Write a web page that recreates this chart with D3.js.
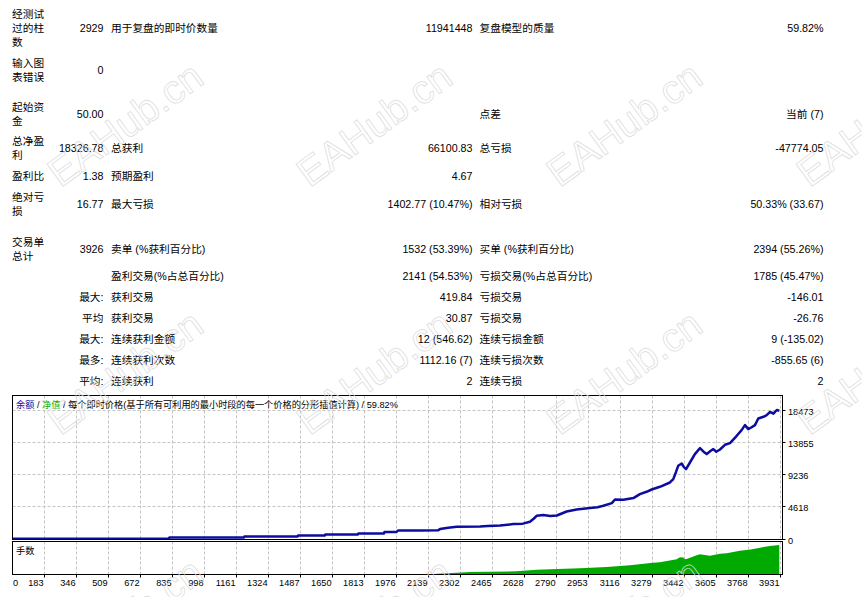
<!DOCTYPE html>
<html>
<head>
<meta charset="utf-8">
<script src="https://cdn.jsdelivr.net/npm/d3@7/dist/d3.min.js"></script>
<style>
  html, body { margin: 0; padding: 0; background: #ffffff; }
  svg { display: block; }
</style>
</head>
<body>
<div id="report"></div>
<script>
/* Strategy tester report: summary table + balance / lots chart */

// ---- table data ----
var headLabels = [
  ['经测试', '过的柱', '数'], ['输入图', '表错误'], ['起始资', '金'], ['总净盈', '利'],
  ['盈利比'], ['绝对亏', '损'], ['交易单', '总计'], [], [], [], [], [], []
];
var headValues = ['2929', '0', '50.00', '18326.78', '1.38', '16.77', '3926', '',
  '最大:', '平均', '最大:', '最多:', '平均:'];
var midLabels = ['用于复盘的即时价数量', '', '', '总获利', '预期盈利', '最大亏损',
  '卖单 (%获利百分比)', '盈利交易(%占总百分比)', '获利交易', '获利交易',
  '连续获利金额', '连续获利次数', '连续获利'];
var midValues = ['11941448', '', '', '66100.83', '4.67', '1402.77 (10.47%)',
  '1532 (53.39%)', '2141 (54.53%)', '419.84', '30.87', '12 (546.62)', '1112.16 (7)', '2'];
var rightLabels = ['复盘模型的质量', '', '点差', '总亏损', '', '相对亏损',
  '买单 (%获利百分比)', '亏损交易(%占总百分比)', '亏损交易', '亏损交易',
  '连续亏损金额', '连续亏损次数', '连续亏损'];
var rightValues = ['59.82%', '', '当前 (7)', '-47774.05', '', '50.33% (33.67)',
  '2394 (55.26%)', '1785 (45.47%)', '-146.01', '-26.76', '9 (-135.02)', '-855.65 (6)', '2'];

// ---- chart data ----
var legendParts = ['余额', ' / ', '净值', ' / 每个即时价格(基于所有可利用的最小时段的每一个价格的分形插值计算) / 59.82%'];
var volumeLabel = '手数';
var xTicks = [0, 183, 346, 509, 672, 835, 998, 1161, 1324, 1487, 1650, 1813, 1976,
  2139, 2302, 2465, 2628, 2790, 2953, 3116, 3279, 3442, 3605, 3768, 3931];
var yTicks = [0, 4618, 9236, 13855, 18473];

var tradeNo = [0, 818, 820, 1200, 1202, 1473, 1475, 1612, 1614, 1700, 1780, 1782, 1913, 1915,
  1977, 1984, 2100, 2188, 2198, 2240, 2283, 2402, 2440, 2504, 2571, 2620, 2656, 2675, 2690,
  2724, 2760, 2793, 2843, 2894, 2962, 3000, 3030, 3073, 3089, 3132, 3183, 3216, 3250, 3276,
  3318, 3369, 3386, 3400, 3411, 3429, 3440, 3451, 3471, 3496, 3522, 3540, 3556, 3575, 3590, 3605, 3624, 3649,
  3675, 3709, 3734, 3751, 3768, 3785, 3802, 3819, 3845, 3860, 3879, 3896, 3913, 3926];
var balance = [50, 80, 215, 230, 358, 370, 501, 510, 644, 650, 660, 788, 800, 988,
  1000, 1217, 1230, 1240, 1418, 1600, 1747, 1790, 1850, 1933, 2134, 2200, 2463, 2900, 3322,
  3423, 3300, 3365, 3938, 4224, 4425, 4550, 4754, 5141, 5657, 5614, 5857, 6430, 6760, 7089,
  7476, 8092, 8579, 9600, 10484, 10813, 10300, 10011, 10956, 12159, 13018, 12500, 12159, 12600, 12875, 12500, 12818, 13491,
  13735, 14780, 15596, 16312, 15740, 16000, 16312, 17257, 17501, 17700, 18200, 17950, 18473, 18377];

var lotTradeNo = [0, 2160, 2162, 2351, 2450, 2588, 2621, 2690, 2799, 2911, 3047, 3165, 3283,
  3318, 3403, 3420, 3437, 3445, 3454, 3505, 3522, 3573, 3624, 3658, 3725, 3780, 3827, 3878, 3926];
var lots = [0, 0, 0.10, 0.30, 0.33, 0.37, 0.43, 0.53, 0.60, 0.67, 0.80, 0.97, 1.23,
  1.27, 1.57, 1.77, 1.75, 1.57, 1.60, 1.97, 2.07, 1.93, 2.13, 2.17, 2.43, 2.55, 2.73, 2.90, 3.00];

var watermarkText = 'EAHub.cn';
var watermarkCols = [125, 374, 624, 874];
var watermarkRows = [124, 372, 620];

(function () {
  'use strict';

  var WIDTH = 862, HEIGHT = 597;
  var FONT = '"Liberation Sans", Arial, "Noto Sans CJK SC", sans-serif';
  var TABLE_FONT_SIZE = 10.7;
  var CHART_FONT_SIZE = 9.2;

  var COLOR_BALANCE = '#0c0ca0';
  var COLOR_EQUITY = '#00b000';
  var COLOR_LOTS = '#00aa00';
  var COLOR_GRID = '#c4c4c4';

  // table column anchors
  var COL1_X = 12, COL2_R = 103.5, COL3_X = 111, COL4_R = 472.5, COL5_X = 479.5, COL6_R = 823.5;
  var ROW_Y = [27.7, 70.3, 114, 148.3, 175.7, 204.3, 249, 276, 297, 318.3, 339, 360, 380.7];
  var LINE_H = 14;

  // chart frame
  var LEFT = 12.5, RIGHT = 782.5;
  var MAIN_TOP = 395.5, MAIN_BOTTOM = 539.5;
  var VOL_TOP = 541.5, VOL_BOTTOM = 574.5;

  var svg = d3.select('#report').append('svg')
    .attr('width', WIDTH).attr('height', HEIGHT)
    .attr('viewBox', '0 0 ' + WIDTH + ' ' + HEIGHT)
    .style('font-family', FONT);

  function addText(g, x, y, txt, anchor, size) {
    if (!txt) return;
    g.append('text')
      .attr('x', x).attr('y', y)
      .attr('text-anchor', anchor)
      .attr('dominant-baseline', 'central')
      .attr('font-size', size + 'px')
      .attr('fill', '#000')
      .text(txt);
  }

  // ---- summary table ----
  var table = svg.append('g').attr('class', 'stats');
  ROW_Y.forEach(function (y, i) {
    var lines = headLabels[i];
    var y0 = y - (lines.length - 1) * LINE_H / 2;
    lines.forEach(function (ln, j) {
      addText(table, COL1_X, y0 + j * LINE_H, ln, 'start', TABLE_FONT_SIZE);
    });
    addText(table, COL2_R, y, headValues[i], 'end', TABLE_FONT_SIZE);
    addText(table, COL3_X, y, midLabels[i], 'start', TABLE_FONT_SIZE);
    addText(table, COL4_R, y, midValues[i], 'end', TABLE_FONT_SIZE);
    addText(table, COL5_X, y, rightLabels[i], 'start', TABLE_FONT_SIZE);
    addText(table, COL6_R, y, rightValues[i], 'end', TABLE_FONT_SIZE);
  });

  // ---- scales ----
  var x = d3.scaleLinear().domain([183, 3931]).range([44.3, 780.3]);
  var y = d3.scaleLinear().domain([0, 18473]).range([539, 410]);
  var yVol = d3.scaleLinear().domain([0, 3.3]).range([575, 542]);

  var chart = svg.append('g').attr('class', 'chart');

  // vertical grid (both panes)
  var vTicks = xTicks.filter(function (t) { return t > 0; });
  vTicks.forEach(function (t) {
    var gx = Math.floor(x(t)) + 0.5;
    [[MAIN_TOP, MAIN_BOTTOM], [VOL_TOP, VOL_BOTTOM]].forEach(function (p) {
      chart.append('line')
        .attr('x1', gx).attr('x2', gx).attr('y1', p[0]).attr('y2', p[1])
        .attr('stroke', COLOR_GRID).attr('stroke-width', 1)
        .attr('stroke-dasharray', '3,2');
    });
  });

  // horizontal grid (main pane)
  yTicks.filter(function (v) { return v > 0; }).forEach(function (v) {
    var gy = Math.floor(y(v)) + 0.5;
    chart.append('line')
      .attr('x1', LEFT).attr('x2', RIGHT).attr('y1', gy).attr('y2', gy)
      .attr('stroke', COLOR_GRID).attr('stroke-width', 1)
      .attr('stroke-dasharray', '3,2');
  });

  var defs = svg.append('defs');
  defs.append('clipPath').attr('id', 'clip-main')
    .append('rect').attr('x', LEFT).attr('y', MAIN_TOP).attr('width', RIGHT - LEFT).attr('height', MAIN_BOTTOM - MAIN_TOP);
  defs.append('clipPath').attr('id', 'clip-vol')
    .append('rect').attr('x', LEFT).attr('y', VOL_TOP).attr('width', RIGHT - LEFT).attr('height', VOL_BOTTOM - VOL_TOP);

  // lots area
  var volArea = d3.area()
    .x(function (d) { return x(d[0]); })
    .y0(yVol(0))
    .y1(function (d) { return yVol(d[1]); });

  chart.append('path')
    .attr('clip-path', 'url(#clip-vol)')
    .attr('d', volArea(d3.zip(lotTradeNo, lots)))
    .attr('fill', COLOR_LOTS);

  // balance line
  var balLine = d3.line()
    .x(function (d) { return x(d[0]); })
    .y(function (d) { return y(d[1]); });

  chart.append('path')
    .attr('clip-path', 'url(#clip-main)')
    .attr('d', balLine(d3.zip(tradeNo, balance)))
    .attr('fill', 'none')
    .attr('stroke', COLOR_BALANCE)
    .attr('stroke-width', 2.5)
    .attr('stroke-linejoin', 'round');

  // frames
  [[MAIN_TOP, MAIN_BOTTOM], [VOL_TOP, VOL_BOTTOM]].forEach(function (p) {
    chart.append('rect')
      .attr('x', LEFT).attr('y', p[0])
      .attr('width', RIGHT - LEFT).attr('height', p[1] - p[0])
      .attr('fill', 'none').attr('stroke', '#000').attr('stroke-width', 1);
  });

  // y axis labels on the right
  yTicks.forEach(function (v) {
    var gy = Math.floor(y(v)) + 0.5;
    chart.append('line')
      .attr('x1', RIGHT).attr('x2', RIGHT + 3).attr('y1', gy).attr('y2', gy)
      .attr('stroke', '#000');
    addText(chart, 788, gy + 1, String(v), 'start', CHART_FONT_SIZE);
  });

  // x axis labels
  xTicks.forEach(function (t, i) {
    if (i === 0) {
      addText(chart, 13, 583, String(t), 'start', CHART_FONT_SIZE);
      return;
    }
    var gx = Math.floor(x(t)) + 0.5;
    chart.append('line')
      .attr('x1', gx).attr('x2', gx).attr('y1', VOL_BOTTOM).attr('y2', VOL_BOTTOM + 3)
      .attr('stroke', '#000');
    addText(chart, gx - 1, 583, String(t), 'end', CHART_FONT_SIZE);
  });

  // legend
  var legend = chart.append('text')
    .attr('x', 16).attr('y', 405)
    .attr('dominant-baseline', 'central')
    .attr('font-size', CHART_FONT_SIZE + 'px');
  var legendColors = [COLOR_BALANCE, '#000', COLOR_EQUITY, '#000'];
  legendParts.forEach(function (p, i) {
    legend.append('tspan').attr('fill', legendColors[i]).text(p);
  });

  addText(chart, 16, 550.7, volumeLabel, 'start', CHART_FONT_SIZE);

  // watermark outlines
  var wm = svg.append('g').attr('class', 'watermark');
  watermarkRows.forEach(function (wy) {
    watermarkCols.forEach(function (wx) {
      wm.append('text')
        .attr('transform', 'translate(' + wx + ',' + wy + ') rotate(-36)')
        .attr('text-anchor', 'middle')
        .attr('dominant-baseline', 'central')
        .attr('font-size', '40px')
        .attr('font-family', '"Liberation Sans", Arial, sans-serif')
        .attr('fill', 'none')
        .attr('stroke', '#dadada')
        .attr('stroke-width', 0.7)
        .text(watermarkText);
    });
  });
})();
</script>
</body>
</html>
